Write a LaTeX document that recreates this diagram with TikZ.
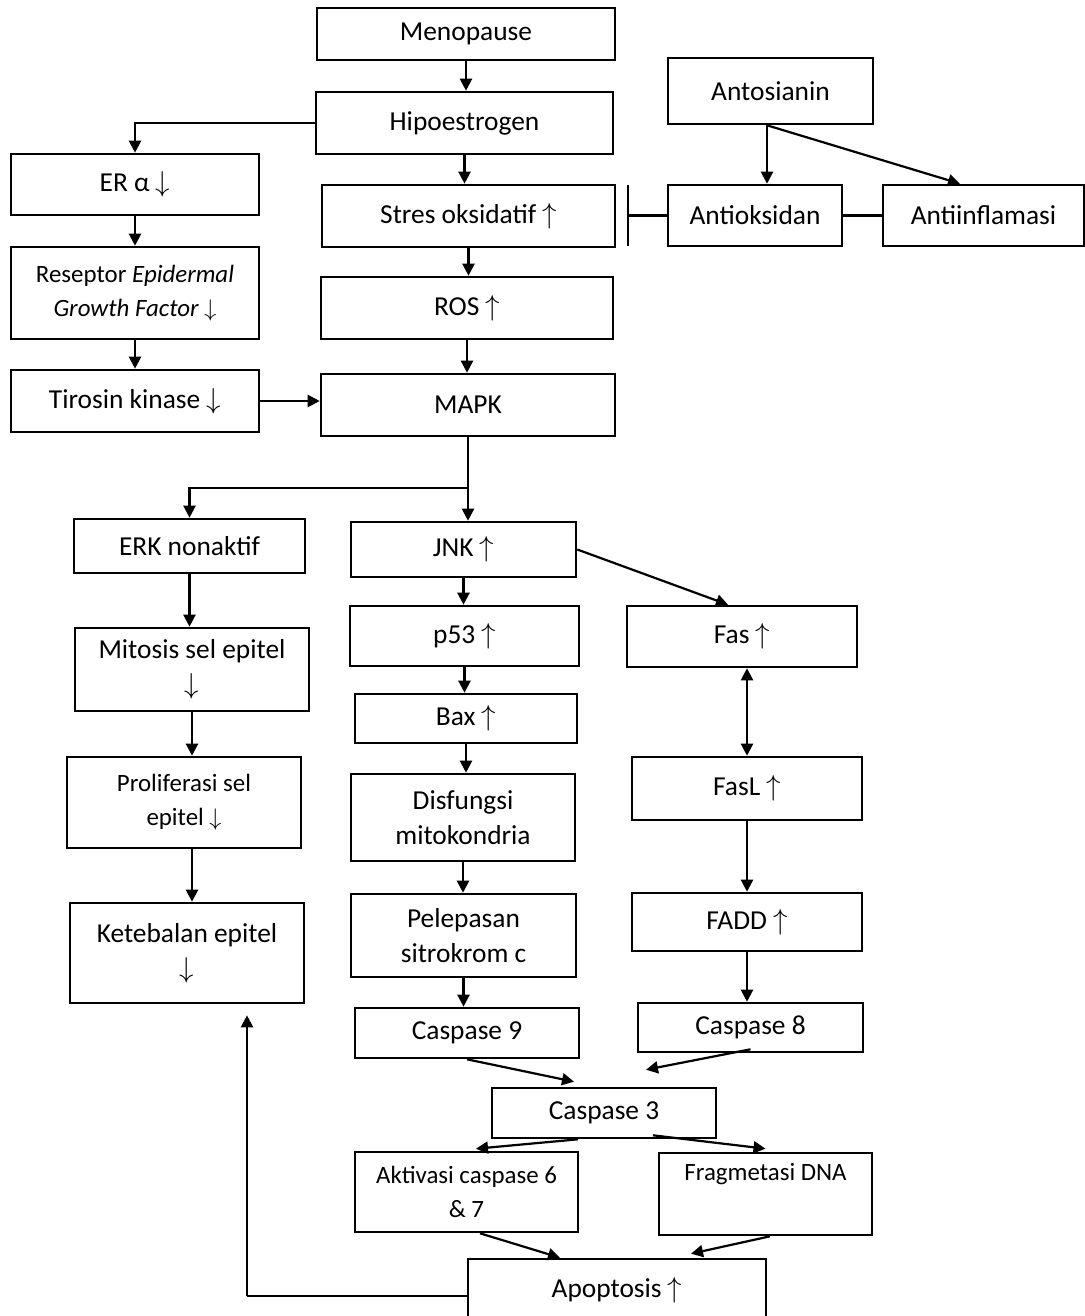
\documentclass[tikz,border=0pt]{standalone}
\usepackage{fontspec}
\setmainfont{Carlito}
\usetikzlibrary{arrows.meta}
\tikzset{
  box/.style={draw, line width=1.3pt, rectangle, inner sep=0pt, align=center,
    font=\fontsize{13.7}{17.5}\selectfont},
  small/.style={font=\fontsize{12.45}{17}\selectfont},
  conn/.style={line width=1.1pt},
  arr/.style={conn, -{Triangle[length=6pt,width=6pt]}},
  darr/.style={conn, {Triangle[length=6pt,width=6pt]}-{Triangle[length=6pt,width=6pt]}},
}
\newcommand\bx[7][]{%
  \pgfmathsetmacro\bxcx{(#3+#5)/2}%
  \pgfmathsetmacro\bxcy{(#4+#6)/2}%
  \pgfmathsetmacro\bxw{(#5-#3)*0.5}%
  \pgfmathsetmacro\bxh{(#6-#4)*0.5}%
  \node[box,minimum width=\bxw pt,minimum height=\bxh pt,#1] (#2) at (\bxcx,\bxcy) {#7};}
\newcommand\upar{$\uparrow$}
\newcommand\dnar{$\downarrow$}
\begin{document}
\begin{tikzpicture}[x=0.5pt,y=-0.5pt]
\useasboundingbox[fill=white] (0,0) rectangle (1085,1316);
% middle column
\bx{men}{317}{8}{615}{60}{Menopause}
\bx{hipo}{316}{92}{613}{154}{Hipoestrogen}
\bx{stres}{322}{185}{615}{247}{Stres oksidatif \upar}
\bx{ros}{321}{277}{613}{339}{ROS \upar}
\bx{mapk}{321}{374}{615}{436}{MAPK}
% right top
\bx{anto}{668}{58}{873}{124}{Antosianin}
\bx{antiok}{668}{185}{842}{246}{Antioksidan}
\bx{antiinf}{883}{185}{1084}{246}{Antiinflamasi}
% left column
\bx{er}{11}{154}{259}{215}{ER α \dnar}
\bx[small]{rec}{11}{247}{259}{339}{Reseptor \textit{Epidermal}\\\textit{Growth Factor} \dnar}
\bx{tir}{11}{370}{259}{432}{Tirosin kinase \dnar}
\bx{erk}{74}{519}{305}{573}{ERK nonaktif}
\bx{mit}{75}{628}{309}{711}{Mitosis sel epitel\\\dnar}
\bx[small]{pro}{67}{757}{301}{848}{Proliferasi sel\\epitel \dnar}
\bx{keteb}{70}{903}{304}{1003}{Ketebalan epitel\\\dnar}
% middle lower
\bx{jnk}{351}{522}{576}{577}{JNK \upar}
\bx{p53}{350}{606}{579}{666}{p53 \upar}
\bx{bax}{355}{694}{577}{743}{Bax \upar}
\bx{disf}{351}{774}{575}{861}{Disfungsi\\mitokondria}
\bx{pel}{351}{894}{576}{977}{Pelepasan\\sitrokrom c}
\bx{c9}{355}{1008}{579}{1058}{Caspase 9}
% right lower
\bx{fas}{627}{606}{857}{667}{Fas \upar}
\bx{fasl}{632}{757}{862}{820}{FasL \upar}
\bx{fadd}{632}{893}{862}{951}{FADD \upar}
\bx{c8}{638}{1003}{863}{1052}{Caspase 8}
% bottom
\bx{c3}{492}{1088}{716}{1138}{Caspase 3}
\bx[small]{akt}{355}{1152}{578}{1232}{Aktivasi caspase 6\\\& 7}
\bx[small]{frag}{659}{1153}{872}{1235}{Fragmetasi DNA\\\strut}
\bx{apop}{468}{1259}{766}{1322}{Apoptosis \upar}

% connectors middle
\draw[arr] (men.south) -- (men.south |- hipo.north);
\draw[arr] (hipo.south) -- (hipo.south |- stres.north);
\draw[arr] (stres.south) -- (stres.south |- ros.north);
\draw[arr] (ros.south) -- (ros.south |- mapk.north);
\coordinate (split) at (468,488);
\draw[arr] (mapk.south) -- (mapk.south |- jnk.north);
\draw[arr] (split) -| (erk.north);
% antosianin
\draw[arr] ([xshift=-1.75pt]anto.south) -- ([xshift=-1.75pt]anto.south |- antiok.north);
\draw[arr] ([xshift=-1.75pt]anto.south) -- ([xshift=-11.75pt]antiinf.north);
\draw[conn] (antiok.east) -- (antiinf.west);
\coordinate (inh) at (628,215.5);
\draw[conn] (antiok.west) -- (inh);
\draw[conn] ([yshift=15pt]inh) -- ([yshift=-15.5pt]inh);
% left
\draw[arr] (hipo.west) -| (er.north);
\draw[arr] (er.south) -- (er.south |- rec.north);
\draw[arr] (rec.south) -- (rec.south |- tir.north);
\draw[arr] (tir.east) -- (tir.east -| mapk.west);
\draw[arr] (erk.south) -- (erk.south |- mit.north);
\draw[arr] (mit.south) -- (mit.south |- pro.north);
\draw[arr] (mit.south |- pro.south) -- (mit.south |- keteb.north);
% middle lower
\draw[arr] (jnk.south) -- (jnk.south |- p53.north);
\draw[arr] (p53.south) -- (p53.south |- bax.north);
\draw[arr] (bax.south) -- (bax.south |- disf.north);
\draw[arr] (disf.south) -- (disf.south |- pel.north);
\draw[arr] (pel.south) -- (pel.south |- c9.north);
% right lower
\draw[arr] (jnk.east) -- ([xshift=-7pt]fas.north);
\draw[darr] (fasl.north) -- (fasl.north |- fas.south);
\draw[arr] (fasl.south) -- (fasl.south |- fadd.north);
\draw[arr] (fadd.south) -- (fadd.south |- c8.north);
% caspases
\draw[arr] (c9.south) -- ([xshift=-15pt,yshift=2.5pt]c3.north);
\draw[arr] ([yshift=2pt]c8.south) -- ([xshift=21pt,yshift=8.5pt]c3.north);
\draw[arr] ([xshift=-13pt]c3.south) -- ([xshift=4.75pt,yshift=1pt]akt.north);
\draw[arr] ([xshift=24.5pt,yshift=2pt]c3.south) -- ([yshift=1.5pt]frag.north);
\draw[arr] ([xshift=6.75pt]akt.south) -- ([xshift=-28.5pt]apop.north);
\draw[arr] ([xshift=2.25pt]frag.south) -- ([xshift=37pt,yshift=2pt]apop.north);
% feedback
\coordinate (fb) at (247,1296);
\draw[conn] (apop.west |- fb) -- (fb);
\draw[arr, shorten >=5.5pt] (fb) -- (fb |- keteb.south);
\end{tikzpicture}
\end{document}
